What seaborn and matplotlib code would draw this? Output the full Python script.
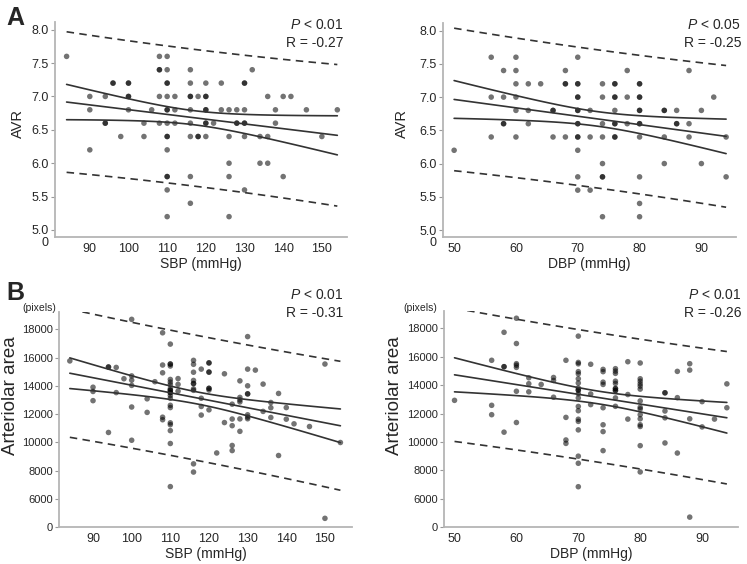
import numpy as np
import pandas as pd
import matplotlib
matplotlib.use("Agg")
import matplotlib.pyplot as plt
from matplotlib.transforms import offset_copy
import seaborn as sns

# AVR vs SBP (panel A, left): SBP -> AVR values (repeats = overlapping dots)
avr_by_sbp = {
    84: [7.6], 90: [7.0, 6.8, 6.2], 94: [7.0, 6.6, 6.6], 96: [7.2, 7.2], 98: [6.4],
    100: [7.2, 7.2, 7.0, 7.0, 6.8], 104: [6.6, 6.4], 106: [6.8],
    108: [7.6, 7.4, 7.4, 7.0, 6.6],
    110: [7.6, 7.4, 7.2, 7.2, 7.0, 6.8, 6.8, 6.6, 6.4, 6.4, 6.2, 5.8, 5.8, 5.6, 5.2],
    112: [7.0, 6.8, 6.6], 116: [7.4, 7.2, 7.0, 7.0, 6.8, 6.6, 6.4, 5.8, 5.4],
    118: [7.0, 6.4, 6.4], 120: [7.2, 7.0, 7.0, 6.8, 6.8, 6.6, 6.6, 6.4],
    122: [6.6], 124: [7.2, 6.8], 126: [6.8, 6.4, 6.0, 5.8, 5.2], 128: [6.8, 6.6, 6.6],
    130: [7.2, 7.2, 6.8, 6.6, 6.6, 6.4, 5.6], 132: [7.4], 134: [6.4, 6.0],
    136: [7.0, 6.4, 6.0], 138: [6.8, 6.6], 140: [7.0, 5.8], 142: [7.0], 146: [6.8],
    150: [6.4], 154: [6.8],
}

# AVR vs DBP (panel A, right)
avr_by_dbp = {
    50: [6.2], 56: [7.6, 7.0, 6.4], 58: [7.4, 7.0, 6.6, 6.6],
    60: [7.6, 7.4, 7.2, 7.0, 6.8, 6.4], 62: [7.2, 6.8, 6.6], 64: [7.2],
    66: [6.8, 6.8, 6.4], 68: [7.4, 7.2, 7.2, 6.4],
    70: [7.6, 7.2, 7.2, 7.0, 7.0, 6.8, 6.8, 6.6, 6.6, 6.4, 6.4, 6.2, 5.8, 5.6],
    72: [6.8, 6.4, 5.6], 74: [7.2, 7.0, 6.6, 6.4, 6.0, 5.8, 5.8, 5.2],
    76: [7.2, 7.2, 7.0, 7.0, 6.8, 6.6, 6.6, 6.4, 6.4], 78: [7.4, 7.0, 6.6],
    80: [7.2, 7.2, 7.0, 7.0, 6.8, 6.8, 6.6, 6.6, 6.4, 5.8, 5.4, 5.2],
    84: [6.8, 6.8, 6.4, 6.0], 86: [6.8, 6.6, 6.6], 88: [7.4, 6.6, 6.4],
    90: [6.8, 6.0], 92: [7.0], 94: [6.4, 5.8],
}

# arteriolar area (pixels) vs SBP (panel B, left); the low outlier sits under the axis break
area_by_sbp = {
    84: [15760], 90: [13900, 13600, 12950], 94: [15330, 15330, 10700],
    96: [15300, 13520], 98: [14500], 100: [18700, 14700, 14400, 14030, 12500, 10150],
    104: [13080, 12120], 106: [14290], 108: [17750, 15470, 14920, 11780, 11600],
    110: [16950, 15540, 15540, 15400, 14450, 14260, 14080, 13800, 13680, 13680, 13520,
          13520, 13320, 13120, 12620, 12460, 11380, 11250, 10830, 9920, 6870],
    112: [14510, 14100, 13620],
    116: [15800, 15520, 14960, 14380, 14160, 14160, 13780, 13680, 8480, 7900],
    118: [15180, 13120, 12540, 11930],
    120: [15620, 15620, 14970, 14970, 13820, 13820, 13700, 12300],
    122: [9250], 124: [14850, 11400], 126: [12700, 11650, 11180, 9780, 9420],
    128: [14350, 13180, 13000, 12860, 11660, 10780],
    130: [17480, 15180, 14000, 13430, 13430, 11950, 11790, 11670],
    132: [15110], 134: [14120, 12190], 136: [12820, 12450, 11760], 138: [13460, 9070],
    140: [12460, 11640], 142: [11310], 146: [11120], 150: [15540, 1850], 154: [9990],
}

# arteriolar area (pixels) vs DBP (panel B, right)
area_by_dbp = {
    50: [12930], 56: [15750, 12580, 11920], 58: [17720, 15300, 15300, 10690],
    60: [18710, 16930, 15510, 15400, 15250, 13570, 11370], 62: [14520, 14100, 13530],
    64: [14050], 66: [14540, 14330, 13150], 68: [15750, 11730, 10140, 9900],
    70: [17450, 15600, 15500, 14950, 14800, 14450, 14150, 13800, 13650, 13650, 13400,
         13100, 12500, 12200, 11600, 11450, 10850, 9000, 8500, 6850],
    72: [15470, 13380, 12630],
    74: [15110, 14950, 14210, 14050, 12410, 11210, 10730, 9390],
    76: [15160, 14990, 14830, 14280, 14120, 13760, 13760, 13620, 13620, 13100, 12510],
    78: [15650, 13340, 11610],
    80: [15560, 14450, 14280, 14090, 13930, 13720, 12890, 12440, 12320, 11920, 11630,
         11210, 11090, 9740, 7890],
    84: [13460, 13460, 12180, 11700, 9930], 86: [14970, 13120, 9220],
    88: [15510, 15060, 11630, 2100], 90: [12840, 11060], 92: [11610], 94: [14090, 12410],
}

stats_text = ["$P$ < 0.01\nR = -0.27", "$P$ < 0.05\nR = -0.25",
              "$P$ < 0.01\nR = -0.31", "$P$ < 0.01\nR = -0.26"]

avr_ticks = [5.0, 5.5, 6.0, 6.5, 7.0, 7.5, 8.0]
avr_labels = ["5.0", "5.5", "6.0", "6.5", "7.0", "7.5", "8.0"]
area_ticks = [0, 6000, 8000, 10000, 12000, 14000, 16000, 18000]
area_labels = ["0", "6000", "8000", "10000", "12000", "14000", "16000", "18000"]

sns.set_theme(style="white")
plt.rcParams["font.family"] = ["Liberation Sans", "DejaVu Sans"]
plt.rcParams["mathtext.fontset"] = "custom"
plt.rcParams["mathtext.it"] = "Liberation Sans:italic"
plt.rcParams["mathtext.rm"] = "Liberation Sans"

W, H = 747, 564
fig = plt.figure(figsize=(W / 100, H / 100), dpi=100)


def broken_scale(brk, k):
    # y axis squeezed below `brk` (scale break down to 0)
    fwd = lambda v: np.where(v >= brk, v, brk - (brk - v) * k)
    inv = lambda v: np.where(v >= brk, v, brk - (brk - v) / k)
    return fwd, inv


def to_df(d):
    rows = [(k, v) for k, vals in d.items() for v in vals]
    return pd.DataFrame(rows, columns=["x", "y"])


def bands(df):
    x = df["x"].to_numpy(float)
    y = df["y"].to_numpy(float)
    n = len(x)
    b, a = np.polyfit(x, y, 1)
    s = np.sqrt(np.sum((y - (a + b * x)) ** 2) / (n - 2))
    sxx = np.sum((x - x.mean()) ** 2)
    xs = np.linspace(x.min(), x.max(), 120)
    yh = a + b * xs
    t = 1.98
    ci = t * s * np.sqrt(1 / n + (xs - x.mean()) ** 2 / sxx)
    pi = t * s * np.sqrt(1 + 1 / n + (xs - x.mean()) ** 2 / sxx)
    return xs, yh, ci, pi


def panel(box, data, xlim, ylim, scale, yticks, ylabels, ytick_size, xticks, xlabel,
          ylabel, ylab_size, ylab_pos, stat, stat_xy):
    l, t, r, b = box
    ax = fig.add_axes([l / W, 1 - b / H, (r - l) / W, (b - t) / H])
    ax.set_yscale("function", functions=broken_scale(*scale))
    df = to_df(data)
    sns.scatterplot(data=df, x="x", y="y", ax=ax, color="black", alpha=0.55,
                    s=16, edgecolor="none", linewidth=0, zorder=2)
    xs, yh, ci, pi = bands(df)
    lc = "#333333"
    sns.lineplot(x=xs, y=yh, ax=ax, color=lc, linewidth=1.2, zorder=3)
    for sign in (1, -1):
        sns.lineplot(x=xs, y=yh + sign * ci, ax=ax, color=lc, linewidth=1.2, zorder=3)
        ax.plot(xs, yh + sign * pi, color=lc, linewidth=1.2, dashes=(4.5, 3.2), zorder=3)
    ax.set_xlim(*xlim)
    ax.set_ylim(*ylim)
    ax.set_yticks(yticks)
    ax.set_yticklabels(ylabels)
    ax.set_yticks([], minor=True)
    ax.set_xticks(xticks)
    ax.set_xlabel(xlabel, fontsize=10, labelpad=1.5)
    ax.set_ylabel(ylabel, fontsize=ylab_size)
    ax.yaxis.set_label_coords(*ylab_pos)
    for side in ("top", "right"):
        ax.spines[side].set_visible(False)
    for side in ("left", "bottom"):
        ax.spines[side].set_color("#b5b5b5")
        ax.spines[side].set_linewidth(1.3)
    ax.tick_params(axis="y", length=3, width=0.8, color="#999999", labelsize=ytick_size,
                   pad=1.5, left=True)
    ax.tick_params(axis="x", length=0, labelsize=9, pad=4)
    fig.text(stat_xy[0] / W, 1 - stat_xy[1] / H, stat, ha="right", va="top",
             fontsize=10, linespacing=1.35)
    return ax


axes_a = [
    panel((55, 22, 347, 237), avr_by_sbp, (81, 156.5), (2.31, 8.115), (5.0, 0.039),
          avr_ticks, avr_labels, 9, [90, 100, 110, 120, 130, 140, 150], "SBP (mmHg)",
          "AVR", 10.5, (-0.103, 0.53), stats_text[0], (343, 18)),
    panel((443, 23, 736, 237), avr_by_dbp, (48.2, 95.6), (2.31, 8.115), (5.0, 0.039),
          avr_ticks, avr_labels, 9, [50, 60, 70, 80, 90], "DBP (mmHg)",
          "AVR", 10.5, (-0.116, 0.53), stats_text[1], (741, 18)),
]
# the "0" of the AVR scale break sits just under the x axis
for ax in axes_a:
    tr = offset_copy(ax.get_yaxis_transform(), fig=fig, x=-4.5, y=0, units="points")
    ax.text(0, 0, "0", transform=tr, ha="right", va="center", fontsize=9, clip_on=False)

panel((59, 312, 352, 527), area_by_sbp, (81.2, 157), (0, 19220), (6000, 0.331),
      area_ticks, area_labels, 8, [90, 100, 110, 120, 130, 140, 150], "SBP (mmHg)",
      "Arteriolar area", 13.5, (-0.135, 0.61), stats_text[2], (343, 288))
panel((444, 311, 738, 527), area_by_dbp, (48.3, 95.8), (0, 19220), (6000, 0.331),
      area_ticks, area_labels, 8, [50, 60, 70, 80, 90], "DBP (mmHg)",
      "Arteriolar area", 13.5, (-0.14, 0.61), stats_text[3], (741, 288))

for x in (22, 403):
    fig.text(x / W, 1 - 308 / H, "(pixels)", fontsize=7.5, va="center", ha="left")

fig.text(6 / W, 1 - 18 / H, "A", fontsize=18, fontweight="bold", va="center", ha="left")
fig.text(6 / W, 1 - 293 / H, "B", fontsize=18, fontweight="bold", va="center", ha="left")

fig.savefig("out.png", dpi=100)
